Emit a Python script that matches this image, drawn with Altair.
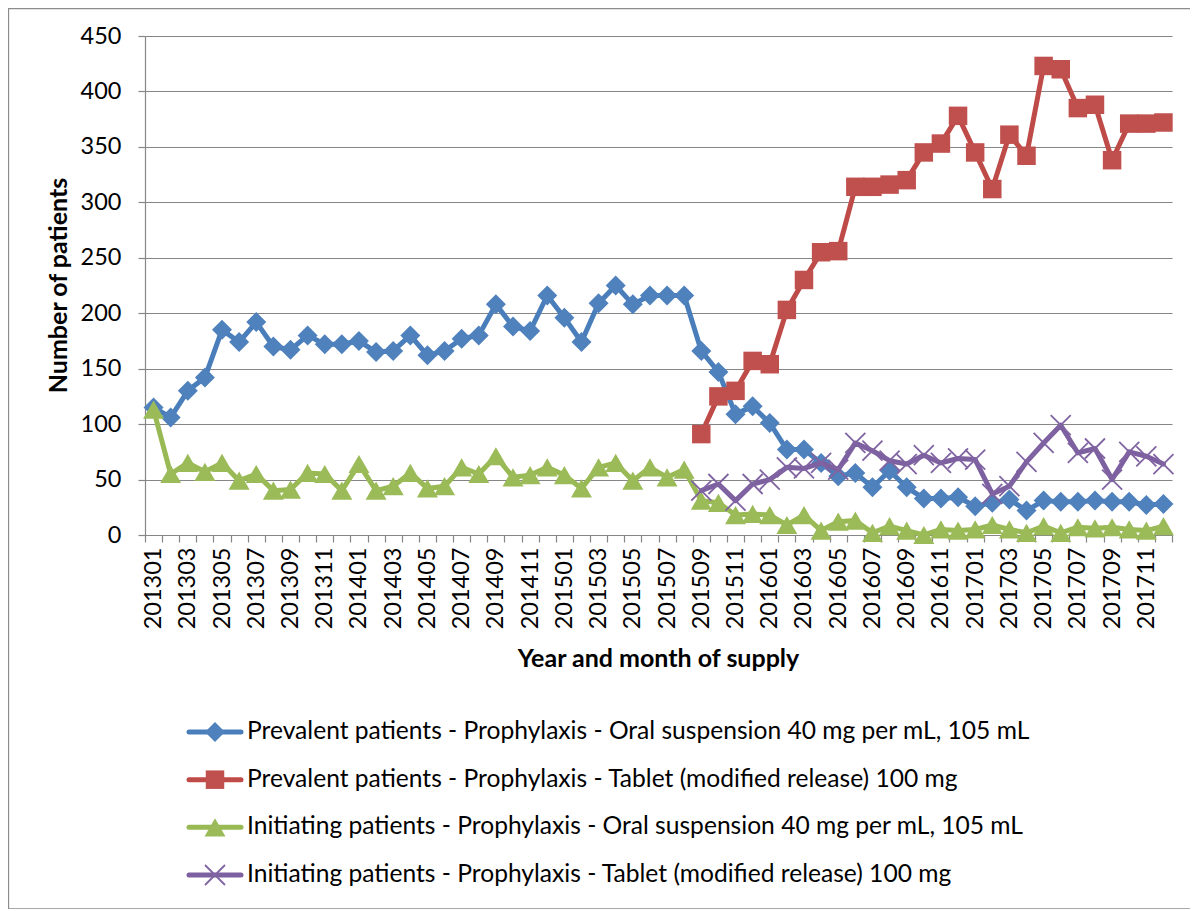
import altair as alt
import pandas as pd

# ---- data -------------------------------------------------------------
months = [f"{y}{m:02d}" for y in range(2013, 2018) for m in range(1, 13)]

series_names = [
    "Prevalent patients - Prophylaxis - Oral suspension 40 mg per mL, 105 mL",
    "Prevalent patients - Prophylaxis - Tablet (modified release) 100 mg",
    "Initiating patients - Prophylaxis - Oral suspension 40 mg per mL, 105 mL",
    "Initiating patients - Prophylaxis - Tablet (modified release) 100 mg",
]

prevalent_oral = [115, 106, 130, 142, 185, 174, 192, 170, 167, 180, 172, 172,
                  175, 165, 166, 180, 162, 166, 177, 180, 208, 188, 184, 216,
                  196, 174, 209, 225, 208, 216, 216, 216, 166, 147, 109, 116,
                  101, 77, 77, 65, 53, 56, 43, 58, 43, 33, 33, 34,
                  26, 29, 32, 22, 31, 30, 30, 31, 30, 30, 27, 28]

prevalent_tablet = [None] * 32 + [91, 125, 130, 157,
                                  154, 203, 230, 255, 256, 314, 314, 316, 320, 345, 353, 378,
                                  345, 312, 361, 342, 423, 420, 385, 388, 338, 371, 371, 372]

initiating_oral = [113, 55, 65, 57, 65, 49, 55, 40, 41, 56, 55, 40,
                   64, 40, 44, 56, 42, 44, 61, 55, 71, 52, 54, 61,
                   54, 42, 61, 65, 49, 61, 52, 59, 31, 29, 18, 19,
                   18, 9, 18, 4, 12, 13, 2, 8, 4, 0, 5, 4,
                   5, 9, 5, 2, 8, 2, 7, 6, 7, 5, 4, 8]

initiating_tablet = [None] * 32 + [40, 46, 31, 46,
                                   50, 61, 60, 65, 59, 83, 76, 67, 64, 72, 65, 69,
                                   68, 37, 44, 66, 83, 99, 74, 78, 50, 75, 71, 64]

all_series = [prevalent_oral, prevalent_tablet, initiating_oral, initiating_tablet]

rows = []
for name, vals in zip(series_names, all_series):
    for m, v in zip(months, vals):
        if v is not None:
            rows.append({"month": m, "series": name, "value": v})
df = pd.DataFrame(rows)
legend_df = pd.DataFrame({"series": series_names})
frame_df = pd.DataFrame({"frame": [0]})

# ---- styles -----------------------------------------------------------
line_colors = ["#4A7EBB", "#BE4B48", "#98B954", "#7D60A0"]
marker_colors = ["#4F81BD", "#C0504D", "#9BBB59", "#8064A2"]
shapes = ["diamond", "square", "triangle-up", "M-1,-1L1,1M-1,1L1,-1"]
sizes = [400, 342, 441, 400]
FONT = "Lato"
GRID = "#868686"
W, H = 1027, 499

x_enc = alt.X(
    "month:O",
    scale=alt.Scale(type="band", domain=months, paddingInner=0, paddingOuter=0),
    bandPosition=0.5,
    axis=alt.Axis(
        title="Year and month of supply",
        labelAngle=-90,
        labelAlign="right",
        labelBaseline="middle",
        labelExpr="toNumber(substring(datum.value, 4, 6)) % 2 == 1 ? datum.value : ''",
        labelOverlap=False,
        labelFont=FONT,
        labelFontSize=23.5,
        labelColor="black",
        labelPadding=5,
        tickBand="extent",
        tickSize=7,
        tickColor=GRID,
        tickWidth=1.2,
        domainColor=GRID,
        domainWidth=1.2,
        grid=False,
        titleFont=FONT,
        titleFontSize=25,
        titleFontWeight="bold",
        titleColor="black",
        titleX=513,
        titleY=123,
        titleAlign="center",
        titleBaseline="middle",
    ),
)

y_enc = alt.Y(
    "value:Q",
    scale=alt.Scale(domain=[0, 450], nice=False, zero=True),
    axis=alt.Axis(
        title="Number of patients",
        values=list(range(0, 451, 50)),
        grid=True,
        gridColor=GRID,
        gridWidth=1.2,
        tickSize=7,
        tickColor=GRID,
        tickWidth=1.2,
        domainColor=GRID,
        domainWidth=1.2,
        labelFont=FONT,
        labelFontSize=23.5,
        labelColor="black",
        labelPadding=17,
        titleFont=FONT,
        titleFontSize=25,
        titleFontWeight="bold",
        titleColor="black",
        titleAngle=270,
        titleX=-87,
        titleY=249,
        titleAlign="center",
        titleBaseline="middle",
    ),
)

main_layers = []
for i, name in enumerate(series_names):
    sub = alt.Chart(df).transform_filter(alt.datum.series == name)
    main_layers.append(
        sub.mark_line(color=line_colors[i], strokeWidth=5, strokeJoin="round",
                      strokeCap="round").encode(x=x_enc, y=y_enc)
    )
    if i < 3:
        pts = sub.mark_point(filled=True, shape=shapes[i], size=sizes[i],
                             color=marker_colors[i], opacity=1, strokeWidth=0)
    else:
        pts = sub.mark_point(filled=False, shape=shapes[i], size=sizes[i],
                             color=marker_colors[i], opacity=1, strokeWidth=1.8)
    main_layers.append(pts.encode(x=x_enc, y=y_enc))

main = alt.layer(*main_layers)

# ---- custom legend ----------------------------------------------------
ly = alt.Y("series:N",
           scale=alt.Scale(type="point", domain=series_names, range=[696, 839], padding=0),
           axis=None)

legend_layers = [
    alt.Chart(frame_df).mark_rect(fillOpacity=0, stroke="#8C8C8C", strokeWidth=1.3).encode(
        x=alt.value(-136.5), x2=alt.value(1080), y=alt.value(-27.5), y2=alt.value(873)
    )
]
for i, name in enumerate(series_names):
    sub = alt.Chart(legend_df).transform_filter(alt.datum.series == name)
    legend_layers.append(
        sub.mark_rule(color=line_colors[i], strokeWidth=5, strokeCap="round").encode(
            x=alt.value(44), x2=alt.value(96), y=ly)
    )
    if i < 3:
        pts = sub.mark_point(filled=True, shape=shapes[i], size=sizes[i],
                             color=marker_colors[i], opacity=1, strokeWidth=0)
    else:
        pts = sub.mark_point(filled=False, shape=shapes[i], size=sizes[i],
                             color=marker_colors[i], opacity=1, strokeWidth=1.8)
    legend_layers.append(pts.encode(x=alt.value(70), y=ly))
    legend_layers.append(
        sub.mark_text(align="left", baseline="middle", font=FONT, fontSize=24.6,
                      color="black").encode(x=alt.value(102), y=ly, text="series:N")
    )

legend = alt.layer(*legend_layers)

chart = (
    alt.layer(main, legend)
    .resolve_scale(y="independent")
    .properties(
        width=W,
        height=H,
        padding={"left": 137, "top": 28, "right": 18, "bottom": 374},
        autosize=alt.AutoSizeParams(type="none"),
        background="white",
    )
    .configure_view(strokeWidth=0)
)

chart.save("out.html", embed_options={"renderer": "svg", "actions": False})
